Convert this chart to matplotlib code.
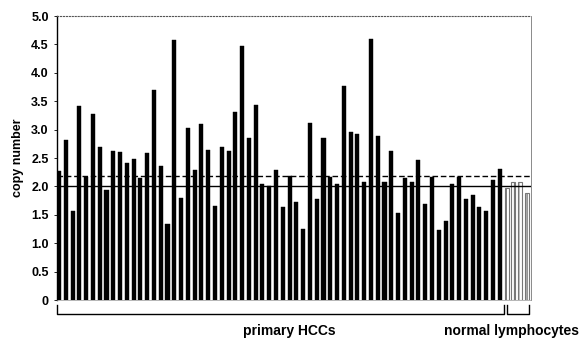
import matplotlib
matplotlib.use('Agg')
import matplotlib.pyplot as plt
import matplotlib.transforms as mtransforms

plt.rcParams['font.family'] = ['Liberation Sans', 'DejaVu Sans']
plt.rcParams['font.weight'] = 'bold'

# copy numbers
hcc_values = [2.27, 2.82, 1.56, 3.42, 2.17, 3.27, 2.69, 1.94, 2.63, 2.61,
              2.41, 2.49, 2.14, 2.58, 3.70, 2.36, 1.34, 4.58, 1.79, 3.03,
              2.29, 3.10, 2.65, 1.65, 2.69, 2.62, 3.31, 4.47, 2.86, 3.44,
              2.05, 2.01, 2.29, 1.64, 2.19, 1.72, 1.25, 3.11, 1.77, 2.85,
              2.17, 2.05, 3.77, 2.96, 2.92, 2.08, 4.59, 2.89, 2.08, 2.63,
              1.54, 2.14, 2.07, 2.46, 1.69, 2.17, 1.24, 1.40, 2.05, 2.17,
              1.77, 1.85, 1.63, 1.57, 2.12, 2.31]
normal_values = [1.98, 2.08, 2.07, 1.88]
solid_level = 2.0
dashed_level = 2.19
yticks = [0, 0.5, 1.0, 1.5, 2.0, 2.5, 3.0, 3.5, 4.0, 4.5, 5.0]
ytick_labels = ['0', '0.5', '1.0', '1.5', '2.0', '2.5', '3.0', '3.5', '4.0', '4.5', '5.0']

fig = plt.figure(figsize=(5.84, 3.42), dpi=100)
ax = fig.add_axes([0.0976, 0.1228, 0.8116, 0.8302])

n_hcc = len(hcc_values)
x_hcc = list(range(n_hcc))
x_norm = list(range(n_hcc, n_hcc + len(normal_values)))

ax.bar(x_hcc, hcc_values, width=0.6, color='black', edgecolor='black', linewidth=0.3, zorder=2)
ax.bar(x_norm, normal_values, width=0.6, color='white', edgecolor='#777777',
       linewidth=0.8, hatch='||||', zorder=2)

ax.axhline(solid_level, color='black', linewidth=1.0, zorder=3)
ax.axhline(dashed_level, color='black', linewidth=1.0, linestyle=(0, (4, 2)), zorder=3)

ax.set_xlim(-0.3, n_hcc + len(normal_values) - 1 + 0.6)
ax.set_ylim(0, 5)
ax.set_yticks(yticks)
ax.set_yticklabels(ytick_labels, fontsize=9, fontweight='bold')
ax.set_xticks([])
ax.tick_params(axis='y', length=2, width=0.6, pad=4)
ax.set_ylabel('copy number', fontsize=9, fontweight='bold', labelpad=5)

ax.spines['left'].set_linewidth(1.0)
ax.spines['top'].set_linestyle(':')
ax.spines['top'].set_color('#555555')
ax.spines['right'].set_color('#777777')
ax.spines['right'].set_linewidth(0.6)
ax.spines['bottom'].set_color('#999999')
ax.spines['bottom'].set_linewidth(0.5)

# brackets under the axis
trans = mtransforms.blended_transform_factory(ax.transData, ax.transAxes)
y_line, y_tick = -0.05, -0.017
for x0, x1 in [(-0.3, n_hcc - 0.4), (n_hcc + 0.05, n_hcc + len(normal_values) - 1 + 0.35)]:
    ax.plot([x0, x0, x1, x1], [y_tick, y_line, y_line, y_tick], color='black',
            linewidth=1.0, transform=trans, clip_on=False)

ax.text(34.0, -0.11, 'primary HCCs', transform=trans, ha='center', va='center',
        fontsize=10, fontweight='bold')
ax.text(66.8, -0.11, 'normal lymphocytes', transform=trans, ha='center', va='center',
        fontsize=10, fontweight='bold')

fig.savefig('out.png', dpi=100)
